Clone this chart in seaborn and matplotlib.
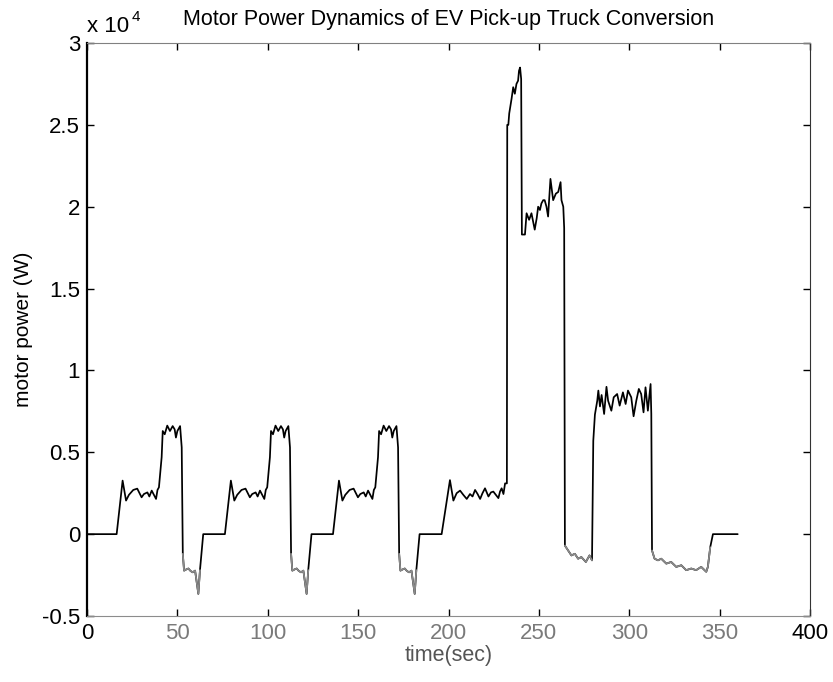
import numpy as np
import pandas as pd
import matplotlib
matplotlib.use("Agg")
import matplotlib.pyplot as plt
from matplotlib.ticker import FixedLocator, FuncFormatter
import seaborn as sns

# Motor power trace of the converted EV pick-up truck (time in s, power in W)
time_s = [
    0.0, 16.4,
    # urban cycle 1
    19.7, 21.6, 23.2, 25.6, 27.8, 30.2, 31.5, 33.4, 34.5, 35.8, 37.0, 38.2, 39.0, 39.8,
    41.3, 41.9, 43.0, 44.4, 45.9, 47.4, 48.5, 49.2, 50.0, 51.5, 52.4,
    53.0, 53.7, 55.0, 56.1, 57.3, 58.5, 59.8, 61.6, 62.5, 64.3,
    # urban cycle 2
    76.3, 79.6, 81.5, 83.1, 85.5, 87.7, 90.1, 91.4, 93.3, 94.4, 95.7, 96.9, 98.1, 98.9, 99.7,
    101.2, 101.8, 102.9, 104.3, 105.8, 107.3, 108.4, 109.1, 109.9, 111.4, 112.3,
    112.9, 113.6, 114.9, 116.0, 117.2, 118.4, 119.7, 121.5, 122.4, 124.2,
    # urban cycle 3
    136.1, 139.4, 141.3, 142.9, 145.3, 147.5, 149.9, 151.2, 153.1, 154.2, 155.5, 156.7, 157.9, 158.7, 159.5,
    161.0, 161.6, 162.7, 164.1, 165.6, 167.1, 168.2, 168.9, 169.7, 171.2, 172.1,
    172.7, 173.4, 174.7, 175.8, 177.0, 178.2, 179.5, 181.3, 182.2, 184.0,
    # urban cycle 4 leading into the extra-urban part
    196.2, 200.8, 202.7, 204.5, 206.4, 208.2, 210.1, 211.9, 213.3, 214.7, 216.1, 217.5, 218.8,
    220.2, 222.1, 223.5, 224.8, 226.2, 227.6, 228.5, 229.4, 230.4, 231.3, 232.3,
    232.5, 233.1, 233.6, 234.9, 235.8, 236.7, 237.6, 238.5, 239.0, 239.6, 240.2,
    240.6, 242.3, 243.2, 244.6, 245.9, 247.0, 247.7, 248.8, 249.6, 250.6, 251.4, 252.4, 253.2,
    254.2, 255.1, 256.4, 257.9, 259.4, 260.7, 262.0, 262.5, 263.5, 264.0,
    264.4, 266.2, 268.0, 269.9, 271.7, 273.5, 276.0, 278.0, 279.4,
    280.1, 281.0, 282.3, 282.9, 283.8, 284.7, 286.1, 287.4, 288.3, 290.1, 291.4, 293.3, 294.7,
    296.5, 298.0, 299.3, 301.1, 302.4, 303.9, 305.3, 306.6, 307.9, 309.0, 310.3, 311.8, 312.2,
    312.6, 314.0, 315.9, 317.7, 320.5, 323.2, 326.0, 328.8, 331.5, 334.3, 337.0, 339.8, 342.6,
    343.5, 344.8, 346.3, 360.0,
]

power_w = [
    0, 0,
    # urban cycle 1
    3270, 2050, 2400, 2700, 2780, 2250, 2450, 2550, 2300, 2660, 2400, 2150, 2700, 2860,
    4700, 6300, 6100, 6630, 6300, 6600, 6400, 5900, 6300, 6600, 5300,
    -1200, -2230, -2150, -2100, -2250, -2330, -2230, -3650, -2200, 0,
    # urban cycle 2
    0, 3270, 2050, 2400, 2700, 2780, 2250, 2450, 2550, 2300, 2660, 2400, 2150, 2700, 2860,
    4700, 6300, 6100, 6630, 6300, 6600, 6400, 5900, 6300, 6600, 5300,
    -1200, -2230, -2150, -2100, -2250, -2330, -2230, -3650, -2200, 0,
    # urban cycle 3
    0, 3270, 2050, 2400, 2700, 2780, 2250, 2450, 2550, 2300, 2660, 2400, 2150, 2700, 2860,
    4700, 6300, 6100, 6630, 6300, 6600, 6400, 5900, 6300, 6600, 5300,
    -1200, -2230, -2150, -2100, -2250, -2330, -2230, -3650, -2200, 0,
    # urban cycle 4 leading into the extra-urban part
    0, 3300, 2050, 2500, 2660, 2400, 2150, 2450, 2300, 2700, 2450, 2150, 2500,
    2800, 2300, 2550, 2600, 2400, 2200, 2600, 2800, 2450, 3100, 3100,
    25000, 25000, 25700, 26600, 27300, 26900, 27500, 27700, 28300, 28500, 27800,
    18300, 18300, 19600, 19200, 19600, 19000, 18600, 19300, 20000, 19800, 20200, 20400, 20400,
    20000, 19400, 21700, 20400, 20800, 20900, 21500, 20400, 20000, 18700,
    -700, -1000, -1300, -1200, -1500, -1400, -1700, -1300, -1600,
    5700, 7300, 8150, 8770, 7800, 8500, 7340, 9000, 8150, 7540, 8360, 8560, 7850,
    8660, 7950, 8770, 8360, 7200, 8150, 8870, 8560, 7440, 8970, 7540, 9170, 7340,
    -1000, -1500, -1600, -1500, -1800, -1700, -2000, -1900, -2200, -2100, -2200, -2000, -2300,
    -2000, -800, 0, 0,
]

x_ticks = [0, 50, 100, 150, 200, 250, 300, 350, 400]
y_ticks = [-5000, 0, 5000, 10000, 15000, 20000, 25000, 30000]

df = pd.DataFrame({"time": time_s, "power": power_w})
# regenerative (negative) stretches, each run drawn as its own unit
neg = df["power"] < 0
df["run"] = (neg != neg.shift()).cumsum()
regen = df[neg]

sns.set_style("ticks")
plt.rcParams["font.family"] = ["Liberation Sans", "DejaVu Sans"]

fig = plt.figure(figsize=(8.33, 6.82), dpi=100)
ax = fig.add_axes([87 / 833, 1 - 616 / 682, (810 - 87) / 833, (616 - 43) / 682])

sns.lineplot(data=df, x="time", y="power", ax=ax, color="black",
             linewidth=1.25, estimator=None, sort=False)
sns.lineplot(data=regen, x="time", y="power", units="run", ax=ax, color="#8a8a8a",
             linewidth=1.25, estimator=None, sort=False)

ax.set_xlim(0, 400)
ax.set_ylim(-5000, 30000)
ax.xaxis.set_major_locator(FixedLocator(x_ticks))
ax.yaxis.set_major_locator(FixedLocator(y_ticks))
ax.yaxis.set_major_formatter(FuncFormatter(lambda v, _: f"{v / 1e4:g}"))

ax.tick_params(direction="in", length=5, width=1, top=True, right=True,
               labelsize=16, pad=5, colors="black")
for lbl, v in zip(ax.get_xticklabels(), x_ticks):
    lbl.set_color("black" if v in (0, 400) else "#7a7a7a")
for side in ("top", "right", "left", "bottom"):
    ax.spines[side].set_visible(True)
ax.spines["left"].set_color("black")
ax.spines["left"].set_linewidth(1.6)
ax.spines["right"].set_color("#333333")
ax.spines["top"].set_color("#808080")
ax.spines["bottom"].set_color("#8c8c8c")
ax.grid(False)

ax.set_xlabel("time(sec)", fontsize=15.5, color="#555555", labelpad=1)
ax.set_ylabel("motor power (W)", fontsize=15, color="black", labelpad=6)
ax.set_title("Motor Power Dynamics of EV Pick-up Truck Conversion",
             fontsize=15.5, pad=13, color="black")

fig.text(87 / 833, 1 - 32 / 682, "x 10", fontsize=16, ha="left", va="baseline",
         color="black")
fig.text(132 / 833, 1 - 21 / 682, "4", fontsize=11, ha="left", va="baseline",
         color="black")

fig.savefig("out.png", dpi=100, facecolor="white")
